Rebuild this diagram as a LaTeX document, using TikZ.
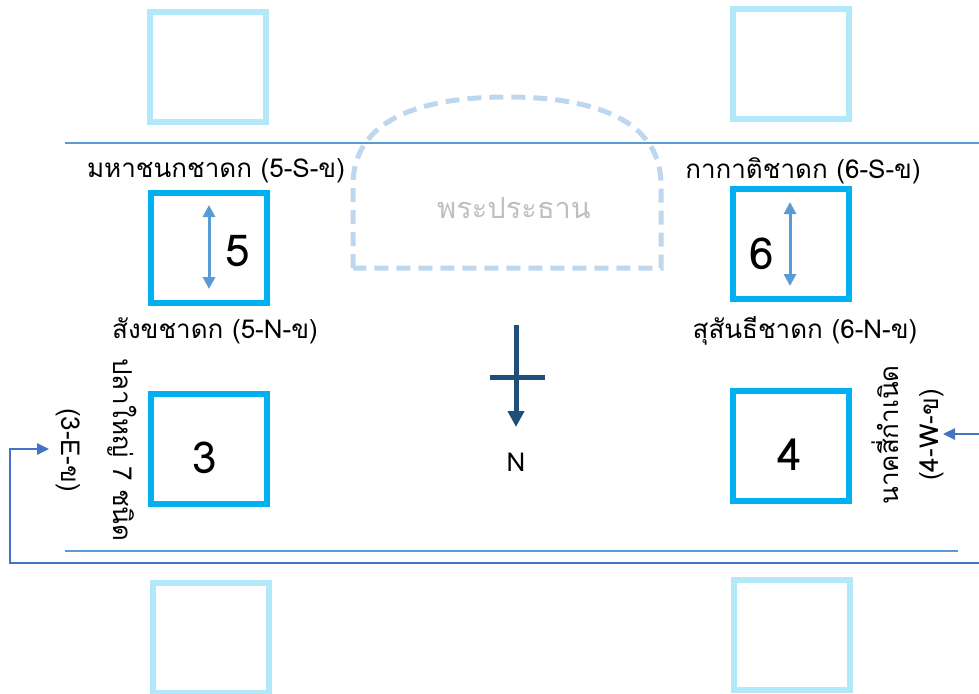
\documentclass[tikz,border=0pt]{standalone}
\usepackage{fontspec}
\setmainfont[Script=Thai]{Loma}
\usetikzlibrary{arrows.meta}
\definecolor{lightbox}{HTML}{B3E8F8}
\definecolor{mainbox}{HTML}{00B0F0}
\definecolor{sepline}{HTML}{5B9BD5}
\definecolor{dbl}{HTML}{5B9BD5}
\definecolor{conn}{HTML}{4472C4}
\definecolor{compass}{HTML}{1F4E79}
\definecolor{dashc}{HTML}{BDD7EE}
\definecolor{graytxt}{HTML}{BFBFBF}
\begin{document}
\begin{tikzpicture}[x=1pt,y=-1pt,
  lbox/.style={draw=lightbox,line width=6pt,minimum width=116pt,minimum height=110pt,inner sep=0pt},
  mbox/.style={draw=mainbox,line width=6pt,minimum width=116pt,minimum height=110pt,inner sep=0pt},
  lbl/.style={font=\fontsize{26}{30}\selectfont,inner sep=0pt},
  num/.style={font=\fontsize{44}{48}\selectfont,inner sep=0pt},
  dblarrow/.style={draw=dbl,line width=3pt,{Triangle[width=12pt,length=12pt]}-{Triangle[width=12pt,length=12pt]}},
  connline/.style={draw=conn,line width=2.5pt},
]
\useasboundingbox (0,0) rectangle (979,693);
% separator lines
\coordinate (t1) at (65,143);
\coordinate (t2) at (979,143);
\coordinate (b1) at (65,551);
\coordinate (b2) at (958,551);
\draw[sepline,line width=1.3pt] (t1) -- (t2);
\draw[sepline,line width=1.3pt] (b1) -- (b2);
% light boxes
\node[lbox] (tl) at (208,67) {};
\node[lbox] (tr) at (791,64) {};
\node[lbox] (bl) at (211,638) {};
\node[lbox] (br) at (792,635) {};
% dashed shrine
\draw[dashc,line width=5pt,dash pattern=on 14pt off 8pt]
  (353,268) -- (353,185) .. controls (353,120) and (420,97) .. (507,97)
  .. controls (594,97) and (661,120) .. (661,185) -- (661,268) -- cycle;
\node[font=\fontsize{29}{32}\selectfont,text=graytxt,inner sep=0pt] (shrine) at (514,208) {พระประธาน};
% main boxes
\node[mbox] (b5) at (209,248) {};
\node[mbox] (b6) at (791,244) {};
\node[mbox] (b3) at (209,449) {};
\node[mbox] (b4) at (791,446) {};
% numbers
\node[num] (n5) at (238,251) {5};
\node[num] (n6) at (762,254) {6};
\node[num] (n3) at (205,458) {3};
\node[num] (n4) at (790,455) {4};
% double arrows
\coordinate (a5t) at (209,205);
\coordinate (a5b) at (209,289);
\coordinate (a6t) at (790,202);
\coordinate (a6b) at (790,286);
\draw[dblarrow] (a5t) -- (a5b);
\draw[dblarrow] (a6t) -- (a6b);
% labels
\node[lbl] (l5s) at (216,171) {มหาชนกชาดก (5-S-ข)};
\node[lbl] (l6s) at (803,171) {กากาติชาดก (6-S-ข)};
\node[lbl] (l5n) at (215,331) {สังขชาดก (5-N-ข)};
\node[lbl] (l6n) at (805,331) {สุสันธีชาดก (6-N-ข)};
\node[lbl,rotate=-90] (l3a) at (122,450) {ปลาใหญ่ 7 ชนิด};
\node[lbl,rotate=-90] (l3b) at (68,450) {(3-E-ข)};
\node[lbl,rotate=90] (l4a) at (885,435) {นาคสี่กำเนิด};
\node[lbl,rotate=90] (l4b) at (932,435) {(4-W-ข)};
% compass
\coordinate (cv1) at (516,325);
\coordinate (cv2) at (516,427);
\coordinate (ch1) at (490,377);
\coordinate (ch2) at (545,377);
\draw[compass,line width=5pt] (ch1) -- (ch2);
\draw[compass,line width=5pt,-{Triangle[width=16pt,length=16pt]}] (cv1) -- (cv2);
\node[font=\fontsize{26}{30}\selectfont,inner sep=0pt] (N) at (516,462) {N};
% connectors
\coordinate (c1) at (979,563);
\coordinate (c2) at (10,563);
\coordinate (c3) at (10,449);
\coordinate (c4) at (49,449);
\draw[connline,-{Triangle[width=11pt,length=12pt]}] (c1) -- (c2) -- (c3) -- (c4);
\coordinate (r1) at (979,434);
\coordinate (r2) at (943,434);
\draw[connline,-{Triangle[width=11pt,length=12pt]}] (r1) -- (r2);
\end{tikzpicture}
\end{document}
